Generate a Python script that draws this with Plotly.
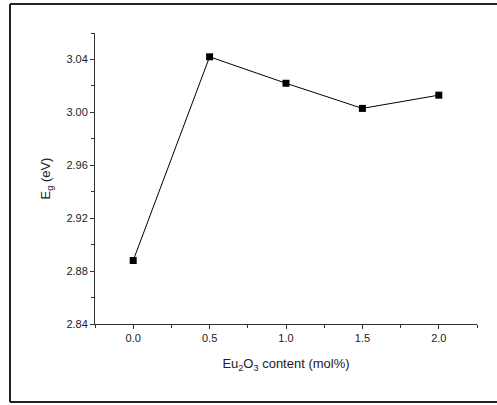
import plotly.graph_objects as go

eu2o3_content = [0.0, 0.5, 1.0, 1.5, 2.0]
band_gap = [2.888, 3.042, 3.022, 3.003, 3.013]
x_tick_vals = [0.0, 0.5, 1.0, 1.5, 2.0]
x_tick_text = ["0.0", "0.5", "1.0", "1.5", "2.0"]
y_tick_vals = [2.84, 2.88, 2.92, 2.96, 3.00, 3.04]
y_tick_text = ["2.84", "2.88", "2.92", "2.96", "3.00", "3.04"]

fig = go.Figure()
fig.add_trace(go.Scatter(
    x=eu2o3_content, y=band_gap, mode="lines+markers",
    line=dict(color="black", width=1),
    marker=dict(symbol="square", size=7, color="black"),
    showlegend=False,
))

font = "Liberation Sans, Arial, sans-serif"
border = dict(color="#222", width=2)
x_left, x_right, y_top, y_bot = -0.2225, 1.06, 1.0997, -0.268
fig.update_layout(
    width=497, height=405,
    margin=dict(l=95, r=20, t=33, b=81),
    paper_bgcolor="white", plot_bgcolor="white",
    font=dict(family=font, size=11, color="#222"),
    xaxis=dict(
        range=[-0.25, 2.25], showgrid=False, zeroline=False,
        showline=True, linecolor="#333", linewidth=1,
        tickmode="array", tickvals=x_tick_vals, ticktext=x_tick_text,
        ticks="outside", ticklen=4, tickcolor="#333",
        minor=dict(dtick=0.25, tick0=0, ticks="outside", ticklen=3, tickcolor="#333"),
        title=dict(text="Eu<sub>2</sub>O<sub>3</sub> content (mol%)", font=dict(size=13), standoff=15),
    ),
    yaxis=dict(
        range=[2.84, 3.06], showgrid=False, zeroline=False,
        showline=True, linecolor="#333", linewidth=1,
        tickmode="array", tickvals=y_tick_vals, ticktext=y_tick_text,
        ticks="outside", ticklen=4, tickcolor="#333",
        minor=dict(dtick=0.02, tick0=2.84, ticks="outside", ticklen=3, tickcolor="#333"),
        title=dict(text="E<sub>g</sub> (eV)", font=dict(size=13), standoff=12),
    ),
    shapes=[
        dict(type="rect", xref="paper", yref="paper", x0=1.005, x1=1.1, y0=-0.3, y1=1.2,
             fillcolor="white", line=dict(width=0), layer="above"),
        dict(type="line", xref="paper", yref="paper", x0=x_left, x1=x_right, y0=y_top, y1=y_top, line=border),
        dict(type="line", xref="paper", yref="paper", x0=x_left, x1=x_right, y0=y_bot, y1=y_bot, line=border),
        dict(type="line", xref="paper", yref="paper", x0=x_left, x1=x_left, y0=y_bot, y1=y_top, line=border),
    ],
)

fig.write_html(
    "out.html", config={"displayModeBar": False},
    post_script=(
        "document.body.style.margin='0';"
        "document.body.style.overflow='hidden';"
        "document.documentElement.style.overflow='hidden';"
    ),
)
